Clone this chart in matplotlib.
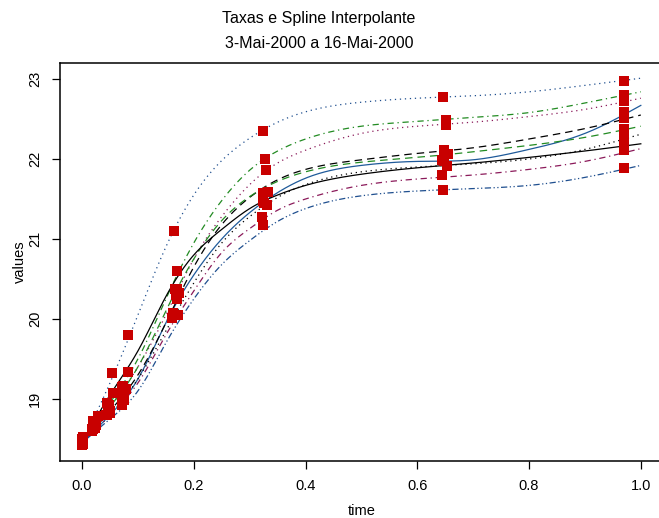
import numpy as np
import matplotlib
matplotlib.use("Agg")
import matplotlib.pyplot as plt

plt.rcParams['font.family'] = ['Liberation Sans', 'DejaVu Sans']

# knots of the fitted curves (time, rate)
knot_x = [0, 0.05, 0.1, 0.15, 0.2, 0.25, 0.3, 0.35, 0.4, 0.5, 0.6, 0.7, 0.8, 0.9, 1.0]
curves = [
    [18.45, 19.20, 20.05, 20.90, 21.55, 21.98, 22.26, 22.46, 22.59, 22.71, 22.76, 22.79, 22.84, 22.92, 23.01],
    [18.45, 18.95, 19.50, 20.25, 20.95, 21.48, 21.86, 22.10, 22.25, 22.41, 22.47, 22.52, 22.58, 22.70, 22.84],
    [18.45, 18.90, 19.40, 20.05, 20.75, 21.28, 21.68, 21.95, 22.11, 22.32, 22.41, 22.46, 22.53, 22.62, 22.76],
    [18.45, 18.80, 19.25, 19.95, 20.55, 21.00, 21.33, 21.58, 21.76, 21.92, 21.97, 21.99, 22.12, 22.32, 22.67],
    [18.45, 18.85, 19.30, 19.95, 20.65, 21.18, 21.52, 21.74, 21.87, 21.99, 22.07, 22.14, 22.25, 22.38, 22.55],
    [18.45, 18.90, 19.40, 20.10, 20.75, 21.23, 21.53, 21.72, 21.84, 21.96, 22.02, 22.09, 22.17, 22.27, 22.41],
    [18.45, 18.80, 19.25, 19.85, 20.45, 20.95, 21.28, 21.52, 21.68, 21.84, 21.90, 21.94, 22.00, 22.12, 22.31],
    [18.45, 19.05, 19.60, 20.28, 20.80, 21.12, 21.38, 21.55, 21.67, 21.81, 21.89, 21.95, 22.02, 22.10, 22.19],
    [18.45, 18.80, 19.20, 19.80, 20.35, 20.83, 21.13, 21.36, 21.50, 21.67, 21.75, 21.80, 21.87, 21.97, 22.13],
    [18.45, 18.75, 19.10, 19.70, 20.25, 20.68, 20.98, 21.22, 21.38, 21.54, 21.60, 21.63, 21.67, 21.77, 21.92],
]
line_colors = ["#1f4f8f", "#228b22", "#8b1a5a", "#1f5a9a", "black",
               "#228b22", "black", "black", "#8b1a5a", "#1f4f8f"]
line_styles = [(0, (1, 3)), (0, (1, 3, 5, 3)), (0, (1, 3)), "-", (0, (6, 4)),
               (0, (6, 4)), (0, (1, 3)), "-", (0, (1, 3, 5, 3)), (0, (1, 2, 1, 2, 5, 2))]

# observed rates per day
point_x = [
    [0.000, 0.028, 0.054, 0.082, 0.165, 0.324, 0.646, 0.970],
    [0.001, 0.023, 0.055, 0.082, 0.170, 0.327, 0.651, 0.970],
    [0.002, 0.020, 0.047, 0.073, 0.170, 0.329, 0.651, 0.970],
    [0.000, 0.020, 0.045, 0.075, 0.172, 0.333, 0.648, 0.970],
    [0.001, 0.021, 0.048, 0.079, 0.174, 0.324, 0.648, 0.970],
    [0.002, 0.023, 0.050, 0.072, 0.168, 0.324, 0.655, 0.970],
    [0.000, 0.025, 0.047, 0.075, 0.170, 0.331, 0.653, 0.970],
    [0.001, 0.020, 0.045, 0.072, 0.166, 0.326, 0.644, 0.970],
    [0.002, 0.018, 0.050, 0.072, 0.163, 0.322, 0.644, 0.970],
    [0.000, 0.018, 0.043, 0.072, 0.161, 0.324, 0.646, 0.970],
]
point_y = [
    [18.42, 18.79, 19.33, 19.80, 21.10, 22.35, 22.78, 22.98],
    [18.45, 18.70, 19.08, 19.34, 20.60, 22.00, 22.49, 22.80],
    [18.48, 18.68, 18.93, 19.16, 20.37, 21.86, 22.42, 22.73],
    [18.50, 18.62, 18.80, 18.99, 20.05, 21.59, 21.97, 22.59],
    [18.52, 18.66, 18.93, 19.12, 20.33, 21.57, 22.11, 22.51],
    [18.44, 18.64, 18.85, 19.05, 20.30, 21.47, 22.06, 22.37],
    [18.47, 18.68, 18.88, 19.10, 20.25, 21.43, 21.91, 22.27],
    [18.50, 18.72, 18.95, 19.15, 20.38, 21.45, 21.99, 22.19],
    [18.46, 18.62, 18.83, 18.95, 20.07, 21.27, 21.80, 22.11],
    [18.43, 18.60, 18.80, 18.92, 20.01, 21.17, 21.61, 21.89],
]


def natural_spline(xk, yk, xs):
    xk = np.asarray(xk, float)
    yk = np.asarray(yk, float)
    n = len(xk)
    h = np.diff(xk)
    A = np.zeros((n, n))
    r = np.zeros(n)
    A[0, 0] = A[-1, -1] = 1
    for i in range(1, n - 1):
        A[i, i - 1] = h[i - 1]
        A[i, i] = 2 * (h[i - 1] + h[i])
        A[i, i + 1] = h[i]
        r[i] = 3 * ((yk[i + 1] - yk[i]) / h[i] - (yk[i] - yk[i - 1]) / h[i - 1])
    c = np.linalg.solve(A, r)
    b = np.diff(yk) / h - h * (2 * c[:-1] + c[1:]) / 3
    d = np.diff(c) / (3 * h)
    idx = np.clip(np.searchsorted(xk, xs) - 1, 0, n - 2)
    dx = xs - xk[idx]
    return yk[idx] + b[idx] * dx + c[idx] * dx**2 + d[idx] * dx**3


fig = plt.figure(figsize=(6.59, 5.18), dpi=100)
ax = fig.add_axes([60 / 659, 1 - 461 / 518, (663 - 60) / 659, (461 - 63) / 518])

xs = np.linspace(0, 1, 400)
for k in range(len(curves)):
    ax.plot(xs, natural_spline(knot_x, curves[k], xs), color=line_colors[k],
            linestyle=line_styles[k], lw=0.9)

for k in range(len(point_x)):
    ax.plot(point_x[k], point_y[k], "s", color="#c80000", ms=6.8, mew=0, zorder=5)

ax.set_xlim(-0.0394, 1.0397)
ax.set_ylim(18.225, 23.2)
ax.set_xticks([0.0, 0.2, 0.4, 0.6, 0.8, 1.0])
ax.set_xticklabels(["0.0", "0.2", "0.4", "0.6", "0.8", "1.0"])
ax.set_yticks([19, 20, 21, 22, 23])
ax.tick_params(direction="out", length=6, width=0.9, labelsize=10.5, pad=7)
plt.setp(ax.get_yticklabels(), rotation=90, va="center")
for s in ax.spines.values():
    s.set_linewidth(1.1)

ax.set_xlabel("time", fontsize=10.5, labelpad=8)
ax.set_ylabel("values", fontsize=10.5, labelpad=1)

fig.text(319 / 659, 1 - 18 / 518, "Taxas e Spline Interpolante", ha="center", va="center", fontsize=11.5)
fig.text(319 / 659, 1 - 43 / 518, "3-Mai-2000 a 16-Mai-2000", ha="center", va="center", fontsize=11.5)

fig.savefig("out.png", dpi=100)
